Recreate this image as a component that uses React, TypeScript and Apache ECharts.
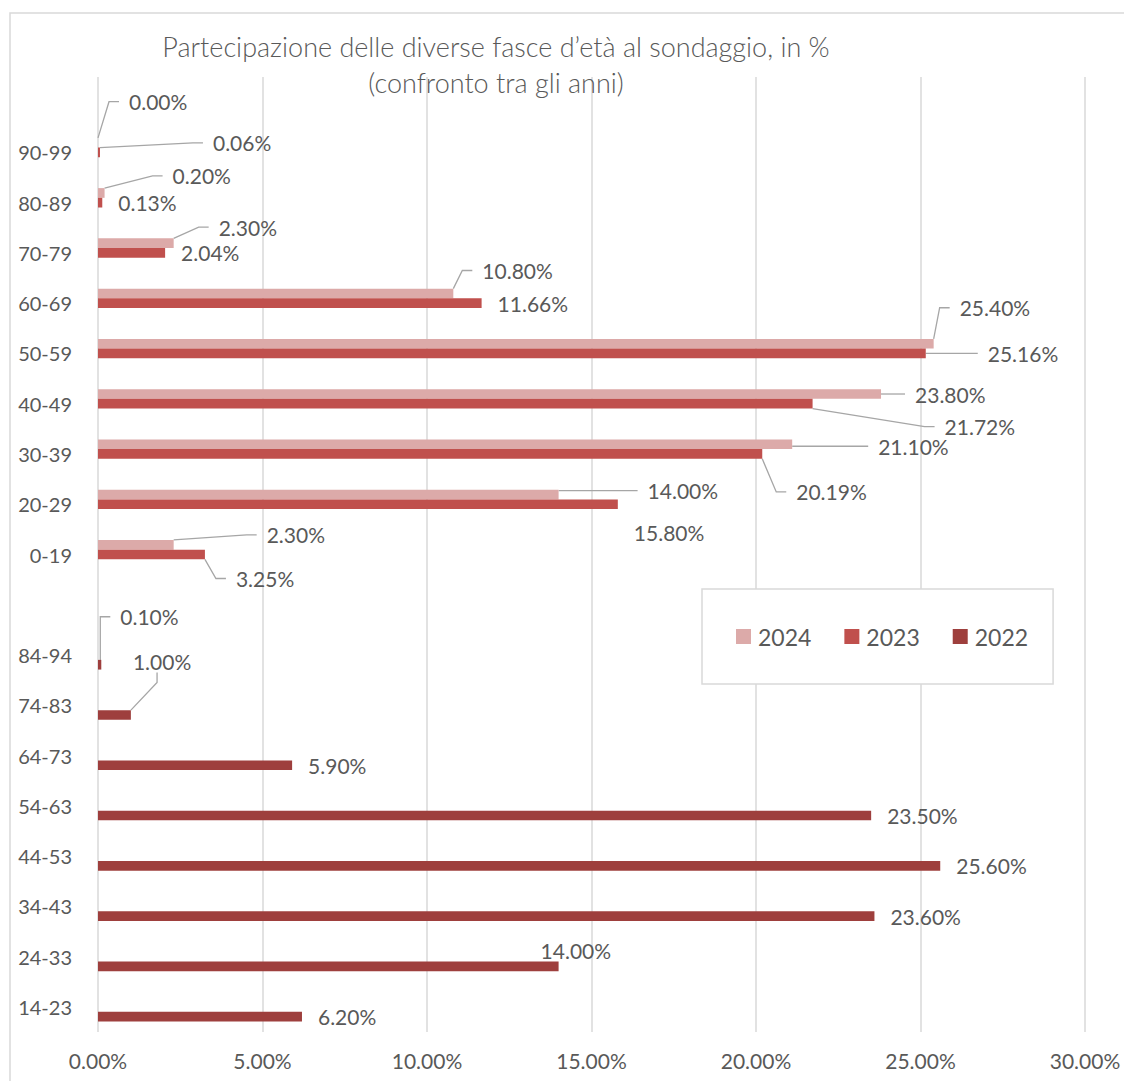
import React, { useEffect, useRef } from 'react';
import * as echarts from 'echarts';

// Categories from bottom to top (empty slots separate the two blocks)
const categories = [
  '14-23', '24-33', '34-43', '44-53', '54-63', '64-73', '74-83', '84-94', '',
  '0-19', '20-29', '30-39', '40-49', '50-59', '60-69', '70-79', '80-89', '90-99', ' ',
];
const seriesNames = ['2024', '2023', '2022'];
const values2024 = [null, null, null, null, null, null, null, null, null,
  2.30, 14.00, 21.10, 23.80, 25.40, 10.80, 2.30, 0.20, 0.00, null];
const values2023 = [null, null, null, null, null, null, null, null, null,
  3.25, 15.80, 20.19, 21.72, 25.16, 11.66, 2.04, 0.13, 0.06, null];
const values2022 = [6.20, 14.00, 23.60, 25.60, 23.50, 5.90, 1.00, 0.10, null,
  null, null, null, null, null, null, null, null, null, null];
const xTicks = { min: 0, max: 30, interval: 5 };

const colors = ['#DCAAA9', '#C0504D', '#9E3F3D'];

// label displacement (dx, dy) and whether a leader line is drawn
const labelMoves: Record<number, [number, number, boolean]>[] = [
  { 9: [77, -10, true], 10: [73, -4, true], 11: [70, 2, true], 12: [18, 0, true], 13: [10, -36, true],
    14: [13, -23, true], 15: [29, -16, true], 16: [52, -17, true], 17: [15, -41, true] },
  { 9: [15, 24, true], 10: [0, 28, false], 11: [18, 38, true], 12: [116, 23, true], 13: [46, 0, true],
    17: [97, -9.5, true] },
  { 1: [-34, -16, false], 6: [-14, -53, true], 7: [3, -48, true] },
];

const FONT = 'Lato';
const TXT = '#595959';

function buildSeries(idx: number, values: (number | null)[]) {
  const moves = labelMoves[idx];
  return {
    name: seriesNames[idx],
    type: 'bar',
    barWidth: 9.7,
    barGap: '0%',
    itemStyle: { color: colors[idx] },
    data: values.map((v, i) => ({
      value: v,
      labelLine: { show: !!(moves[i] && moves[i][2]) },
    })),
    label: {
      show: true,
      position: 'right',
      distance: 6,
      padding: [0, 0, 0, 10],
      backgroundColor: 'rgba(255,255,255,0)',
      fontFamily: FONT,
      fontSize: 21,
      color: TXT,
      formatter: (p: any) => (p.value == null ? '' : Number(p.value).toFixed(2) + '%'),
    },
    labelLine: {
      show: false,
      length2: 10,
      lineStyle: { color: '#A6A6A6', width: 1.3 },
    },
    labelLayout: (params: any) => {
      const m = moves[params.dataIndex];
      if (!m) return {};
      return { dx: m[0], dy: m[1] };
    },
  };
}

export default function App() {
  const ref = useRef<HTMLDivElement>(null);
  useEffect(() => {
    document.body.style.margin = '0';
    const chart = echarts.init(ref.current!, null, { renderer: 'svg' });
    chart.setOption({
      animation: false,
      backgroundColor: '#ffffff',
      textStyle: { fontFamily: FONT },
      title: {
        text: 'Partecipazione delle diverse fasce d’età al sondaggio, in %\n(confronto tra gli anni)',
        left: 496,
        top: 28,
        padding: 0,
        textAlign: 'center',
        textStyle: { fontFamily: FONT, fontSize: 27, fontWeight: 300, color: TXT, lineHeight: 36 },
      },
      graphic: [
        {
          type: 'rect',
          shape: { x: 10, y: 13, width: 1300, height: 1300 },
          style: { fill: 'none', stroke: '#D9D9D9', lineWidth: 1.5 },
          silent: true,
          z: -10,
        },
      ],
      legend: {
        data: seriesNames,
        left: 702,
        top: 589,
        orient: 'horizontal',
        icon: 'rect',
        itemWidth: 15,
        itemHeight: 15,
        itemGap: 33,
        padding: [36, 25, 36, 34],
        borderColor: '#D9D9D9',
        borderWidth: 1.5,
        backgroundColor: '#ffffff',
        selectedMode: false,
        textStyle: { fontFamily: FONT, fontSize: 23, color: TXT, padding: [0, 0, 0, 2] },
      },
      grid: { left: 98, right: 39, top: 77, bottom: 49, containLabel: false },
      xAxis: {
        type: 'value',
        min: xTicks.min,
        max: xTicks.max,
        interval: xTicks.interval,
        axisLine: { show: false },
        axisTick: { show: false },
        splitLine: { show: true, lineStyle: { color: '#D9D9D9', width: 1.5 } },
        axisLabel: {
          fontFamily: FONT,
          fontSize: 21,
          color: TXT,
          margin: 18,
          formatter: (v: number) => v.toFixed(2) + '%',
        },
      },
      yAxis: {
        type: 'category',
        data: categories,
        axisLine: { show: false },
        axisTick: { show: false },
        splitLine: { show: false },
        axisLabel: { fontFamily: FONT, fontSize: 20, color: TXT, margin: 26, interval: 0 },
      },
      series: [
        buildSeries(0, values2024),
        buildSeries(1, values2023),
        buildSeries(2, values2022),
      ],
    });
    return () => chart.dispose();
  }, []);
  return <div ref={ref} style={{ width: 1124, height: 1081 }} />;
}
